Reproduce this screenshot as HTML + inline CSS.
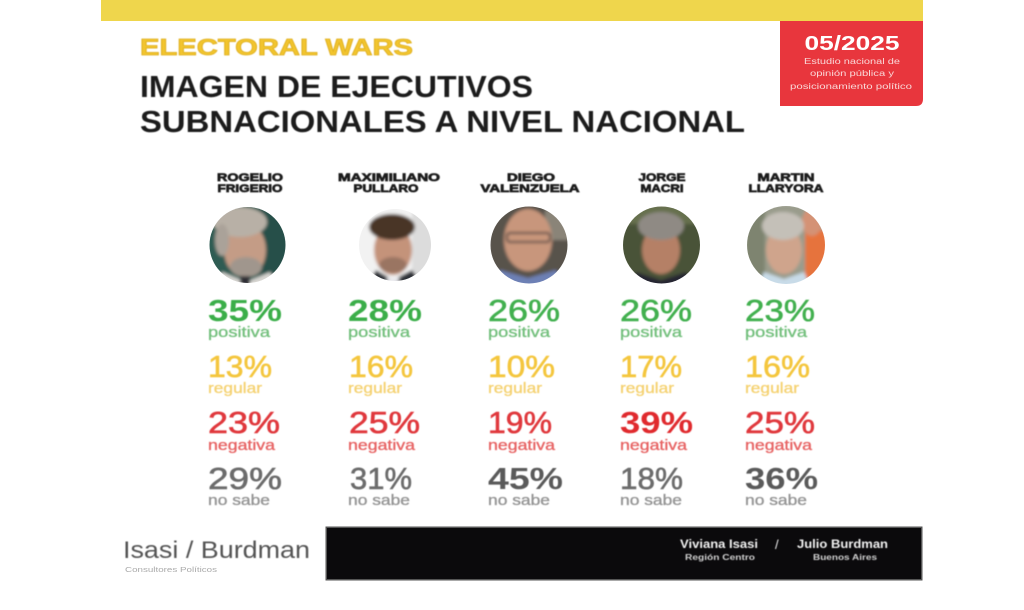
<!DOCTYPE html>
<html><head><meta charset="utf-8"><style>
html,body{margin:0;padding:0;background:#fff;width:1024px;height:610px;overflow:hidden}
svg{display:block}
text{font-family:"Liberation Sans",sans-serif}
</style></head><body>
<svg width="1024" height="610" viewBox="0 0 1024 610" xmlns="http://www.w3.org/2000/svg">
<defs>
<filter id="bl" x="-10%" y="-10%" width="120%" height="120%"><feGaussianBlur stdDeviation="1.6"/></filter>
<filter id="sb" x="-5%" y="-5%" width="110%" height="110%"><feGaussianBlur stdDeviation="0.45"/></filter>
<clipPath id="c1"><circle cx="247.5" cy="245" r="38"/></clipPath>
<clipPath id="c2"><circle cx="395" cy="245" r="36"/></clipPath>
<clipPath id="c3"><circle cx="529" cy="245" r="38.5"/></clipPath>
<clipPath id="c4"><circle cx="661.5" cy="245" r="38.5"/></clipPath>
<clipPath id="c5"><circle cx="786" cy="245" r="39"/></clipPath>
</defs>
<rect width="1024" height="610" fill="#fff"/>
<!-- top yellow bar -->
<rect x="101" y="0" width="822" height="21" fill="#efd64c"/>
<!-- red box -->
<path d="M780 21 H923 V99 Q923 106 916 106 H780 Z" fill="#e8363d"/>
<text x="852" y="50" text-anchor="middle" font-size="20" font-weight="bold" fill="#fff" textLength="95" lengthAdjust="spacingAndGlyphs">05/2025</text>
<g fill="#f9d6d6" font-size="8" text-anchor="middle">
<text x="852" y="64" textLength="96" lengthAdjust="spacingAndGlyphs">Estudio nacional de</text>
<text x="852" y="76" textLength="84" lengthAdjust="spacingAndGlyphs">opinión pública y</text>
<text x="851" y="89" textLength="122" lengthAdjust="spacingAndGlyphs">posicionamiento político</text>
</g>
<!-- titles -->
<g filter="url(#sb)">
<text x="140" y="55" font-size="23" font-weight="bold" fill="#f2c52e" stroke="#e0b020" stroke-width="0.8" textLength="273" lengthAdjust="spacingAndGlyphs">ELECTORAL WARS</text>
<text x="140" y="97" font-size="31" font-weight="bold" fill="#1a1a1a" textLength="393" lengthAdjust="spacingAndGlyphs">IMAGEN DE EJECUTIVOS</text>
<text x="140" y="132" font-size="31" font-weight="bold" fill="#1a1a1a" textLength="605" lengthAdjust="spacingAndGlyphs">SUBNACIONALES A NIVEL NACIONAL</text>
</g>
<!-- names -->
<g font-size="11" font-weight="bold" fill="#1e1e1e" text-anchor="middle" filter="url(#sb)" stroke="#1e1e1e" stroke-width="0.7">
<text x="250" y="181" textLength="66" lengthAdjust="spacingAndGlyphs">ROGELIO</text>
<text x="250" y="192" textLength="65" lengthAdjust="spacingAndGlyphs">FRIGERIO</text>
<text x="389" y="181" textLength="102" lengthAdjust="spacingAndGlyphs">MAXIMILIANO</text>
<text x="386" y="192" textLength="65" lengthAdjust="spacingAndGlyphs">PULLARO</text>
<text x="531" y="181" textLength="48" lengthAdjust="spacingAndGlyphs">DIEGO</text>
<text x="530" y="192" textLength="99" lengthAdjust="spacingAndGlyphs">VALENZUELA</text>
<text x="662" y="181" textLength="47" lengthAdjust="spacingAndGlyphs">JORGE</text>
<text x="662" y="192" textLength="43" lengthAdjust="spacingAndGlyphs">MACRI</text>
<text x="786" y="181" textLength="57" lengthAdjust="spacingAndGlyphs">MARTIN</text>
<text x="786" y="192" textLength="75" lengthAdjust="spacingAndGlyphs">LLARYORA</text>
</g>
<!-- photos -->
<g clip-path="url(#c1)"><g filter="url(#bl)">
<rect x="205" y="203" width="85" height="85" fill="#2e5c52"/>
<rect x="258" y="203" width="32" height="85" fill="#275048"/>
<ellipse cx="245" cy="250" rx="21" ry="27" fill="#c49c86"/>
<ellipse cx="240" cy="222" rx="27" ry="15" fill="#b8b0a6"/>
<ellipse cx="222" cy="240" rx="7" ry="16" fill="#aaa299"/>
<ellipse cx="246" cy="267" rx="16" ry="10" fill="#a0968d"/>
<path d="M212 290 L222 272 L246 282 L270 272 L282 290 Z" fill="#d8d6d2"/>
<rect x="240" y="276" width="10" height="14" fill="#2d2d36"/>
</g></g>
<g clip-path="url(#c2)"><g filter="url(#bl)">
<rect x="355" y="205" width="80" height="80" fill="#f2f2f2"/>
<rect x="412" y="205" width="24" height="80" fill="#dcdcdc"/>
<ellipse cx="393" cy="250" rx="19" ry="25" fill="#c4937a"/>
<ellipse cx="392" cy="227" rx="23" ry="13" fill="#4a3528"/>
<ellipse cx="393" cy="265" rx="14" ry="8" fill="#9a7562"/>
<path d="M364 290 L376 270 L393 280 L412 270 L426 290 Z" fill="#2d3038"/>
<path d="M386 278 L393 290 L400 278 Z" fill="#e8e8ec"/>
</g></g>
<g clip-path="url(#c3)"><g filter="url(#bl)">
<rect x="488" y="204" width="84" height="84" fill="#58524c"/>
<rect x="545" y="210" width="25" height="30" fill="#8a8478"/>
<ellipse cx="528" cy="240" rx="24" ry="31" fill="#c8967c"/>
<rect x="507" y="233" width="43" height="9" rx="3" fill="none" stroke="#4a4240" stroke-width="2"/>
<path d="M492 290 L500 270 L528 278 L556 270 L566 290 Z" fill="#6d80b5"/>
</g></g>
<g clip-path="url(#c4)"><g filter="url(#bl)">
<rect x="620" y="204" width="84" height="84" fill="#4a5238"/>
<rect x="620" y="204" width="84" height="20" fill="#66704e"/>
<ellipse cx="661" cy="250" rx="19" ry="24" fill="#b58066"/>
<ellipse cx="661" cy="226" rx="23" ry="14" fill="#8f8a84"/>
<path d="M626 290 L636 272 L661 280 L686 272 L698 290 Z" fill="#252830"/>
</g></g>
<g clip-path="url(#c5)"><g filter="url(#bl)">
<rect x="745" y="204" width="84" height="84" fill="#9a9c8c"/>
<rect x="745" y="204" width="20" height="84" fill="#7e8470"/>
<rect x="805" y="230" width="25" height="60" fill="#e6733e"/>
<ellipse cx="812" cy="222" rx="10" ry="14" fill="#d49274"/>
<ellipse cx="784" cy="250" rx="18" ry="24" fill="#cfa48c"/>
<ellipse cx="783" cy="226" rx="21" ry="14" fill="#c4c0b8"/>
<path d="M756 290 L764 272 L784 279 L804 272 L812 290 Z" fill="#c8dbe8"/>
</g></g>
<!-- numbers -->
<g filter="url(#sb)">
<g font-size="31">
<text x="208" y="321" font-weight="bold" fill="#3aae48" textLength="74" lengthAdjust="spacingAndGlyphs">35%</text>
<text x="348" y="321" font-weight="bold" fill="#3aae48" textLength="74" lengthAdjust="spacingAndGlyphs">28%</text>
<text x="488" y="321" fill="#42b04f" stroke="#42b04f" stroke-width="0.6" textLength="72" lengthAdjust="spacingAndGlyphs">26%</text>
<text x="620" y="321" fill="#42b04f" stroke="#42b04f" stroke-width="0.6" textLength="72" lengthAdjust="spacingAndGlyphs">26%</text>
<text x="745" y="321" fill="#42b04f" stroke="#42b04f" stroke-width="0.6" textLength="70" lengthAdjust="spacingAndGlyphs">23%</text>

<text x="208" y="377" fill="#f4c63e" stroke="#f4c63e" stroke-width="0.6" textLength="64" lengthAdjust="spacingAndGlyphs">13%</text>
<text x="349" y="377" fill="#f4c63e" stroke="#f4c63e" stroke-width="0.6" textLength="64" lengthAdjust="spacingAndGlyphs">16%</text>
<text x="488" y="377" fill="#f4c63e" stroke="#f4c63e" stroke-width="0.6" textLength="67" lengthAdjust="spacingAndGlyphs">10%</text>
<text x="620" y="377" fill="#f4c63e" stroke="#f4c63e" stroke-width="0.6" textLength="62" lengthAdjust="spacingAndGlyphs">17%</text>
<text x="745" y="377" fill="#f4c63e" stroke="#f4c63e" stroke-width="0.6" textLength="65" lengthAdjust="spacingAndGlyphs">16%</text>

<text x="208" y="433" fill="#e0383c" stroke="#e0383c" stroke-width="0.6" textLength="72" lengthAdjust="spacingAndGlyphs">23%</text>
<text x="349" y="433" fill="#e0383c" stroke="#e0383c" stroke-width="0.6" textLength="71" lengthAdjust="spacingAndGlyphs">25%</text>
<text x="488" y="433" fill="#e0383c" stroke="#e0383c" stroke-width="0.6" textLength="64" lengthAdjust="spacingAndGlyphs">19%</text>
<text x="620" y="433" font-weight="bold" fill="#e02a2e" textLength="73" lengthAdjust="spacingAndGlyphs">39%</text>
<text x="745" y="433" fill="#e0383c" stroke="#e0383c" stroke-width="0.6" textLength="70" lengthAdjust="spacingAndGlyphs">25%</text>

<text x="208" y="489" fill="#6c6c6c" stroke="#6c6c6c" stroke-width="0.6" textLength="74" lengthAdjust="spacingAndGlyphs">29%</text>
<text x="350" y="489" fill="#6c6c6c" stroke="#6c6c6c" stroke-width="0.6" textLength="62" lengthAdjust="spacingAndGlyphs">31%</text>
<text x="488" y="489" font-weight="bold" fill="#5a5a5a" textLength="75" lengthAdjust="spacingAndGlyphs">45%</text>
<text x="620" y="489" fill="#6c6c6c" stroke="#6c6c6c" stroke-width="0.6" textLength="63" lengthAdjust="spacingAndGlyphs">18%</text>
<text x="745" y="489" font-weight="bold" fill="#5a5a5a" textLength="73" lengthAdjust="spacingAndGlyphs">36%</text>
</g>
<!-- labels -->
<g font-size="14.5">
<g fill="#74c07e" stroke="#74c07e" stroke-width="0.35">
<text x="208" y="337" textLength="62" lengthAdjust="spacingAndGlyphs">positiva</text>
<text x="348" y="337" textLength="62" lengthAdjust="spacingAndGlyphs">positiva</text>
<text x="488" y="337" textLength="62" lengthAdjust="spacingAndGlyphs">positiva</text>
<text x="620" y="337" textLength="62" lengthAdjust="spacingAndGlyphs">positiva</text>
<text x="745" y="337" textLength="62" lengthAdjust="spacingAndGlyphs">positiva</text>
</g>
<g fill="#f5d272" stroke="#f5d272" stroke-width="0.35">
<text x="208" y="393" textLength="54" lengthAdjust="spacingAndGlyphs">regular</text>
<text x="348" y="393" textLength="54" lengthAdjust="spacingAndGlyphs">regular</text>
<text x="488" y="393" textLength="54" lengthAdjust="spacingAndGlyphs">regular</text>
<text x="620" y="393" textLength="54" lengthAdjust="spacingAndGlyphs">regular</text>
<text x="745" y="393" textLength="54" lengthAdjust="spacingAndGlyphs">regular</text>
</g>
<g fill="#e76464" stroke="#e76464" stroke-width="0.35">
<text x="208" y="450" textLength="67" lengthAdjust="spacingAndGlyphs">negativa</text>
<text x="348" y="450" textLength="67" lengthAdjust="spacingAndGlyphs">negativa</text>
<text x="488" y="450" textLength="67" lengthAdjust="spacingAndGlyphs">negativa</text>
<text x="620" y="450" textLength="67" lengthAdjust="spacingAndGlyphs">negativa</text>
<text x="745" y="450" textLength="67" lengthAdjust="spacingAndGlyphs">negativa</text>
</g>
<g fill="#959595" stroke="#959595" stroke-width="0.35">
<text x="208" y="505" textLength="62" lengthAdjust="spacingAndGlyphs">no sabe</text>
<text x="348" y="505" textLength="62" lengthAdjust="spacingAndGlyphs">no sabe</text>
<text x="488" y="505" textLength="62" lengthAdjust="spacingAndGlyphs">no sabe</text>
<text x="620" y="505" textLength="62" lengthAdjust="spacingAndGlyphs">no sabe</text>
<text x="745" y="505" textLength="62" lengthAdjust="spacingAndGlyphs">no sabe</text>
</g>
</g>
</g>
<!-- footer -->
<text x="123" y="558" font-size="24" fill="#555" textLength="187" lengthAdjust="spacingAndGlyphs" filter="url(#sb)">Isasi / Burdman</text>
<text x="125" y="572" font-size="7" fill="#aaa" textLength="92" lengthAdjust="spacingAndGlyphs">Consultores Políticos</text>
<rect x="325.5" y="526.5" width="597" height="54" fill="#555"/>
<rect x="327" y="528" width="594" height="51" fill="#0b0a0c"/>
<g fill="#f2f2f2" font-weight="bold" filter="url(#sb)">
<text x="680" y="548" font-size="11.5" textLength="78" lengthAdjust="spacingAndGlyphs">Viviana Isasi</text>
<text x="685" y="560" font-size="8" fill="#d0d0d0" textLength="70" lengthAdjust="spacingAndGlyphs">Región Centro</text>
<text x="775" y="549" font-size="13" font-weight="normal">/</text>
<text x="797" y="548" font-size="11.5" textLength="91" lengthAdjust="spacingAndGlyphs">Julio Burdman</text>
<text x="813" y="560" font-size="8" fill="#d0d0d0" textLength="64" lengthAdjust="spacingAndGlyphs">Buenos Aires</text>
</g>
</svg>
</body></html>
